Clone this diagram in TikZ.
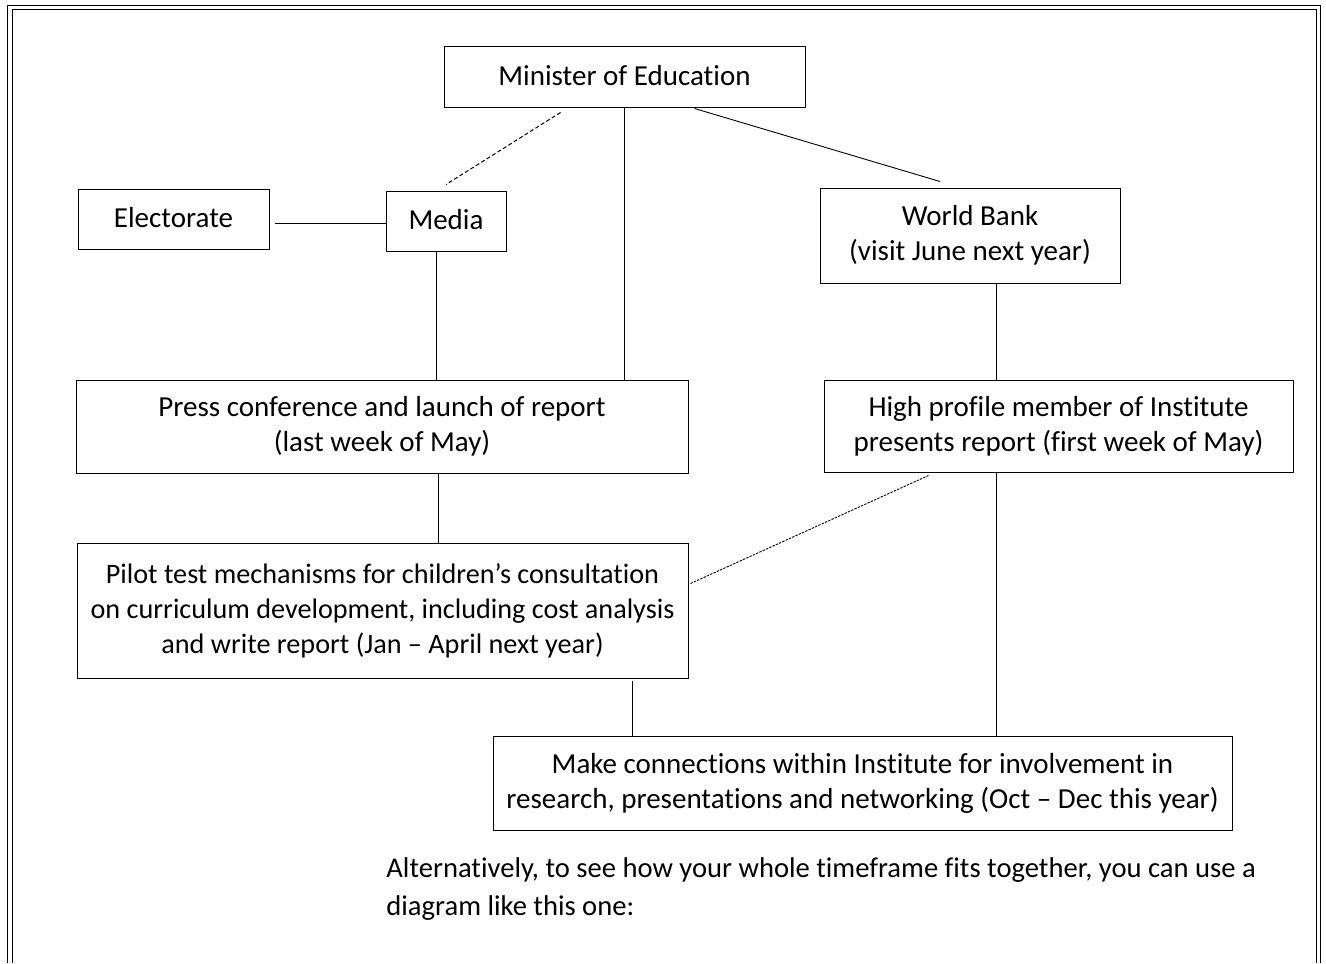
\documentclass[tikz,border=0pt]{standalone}
\usepackage{fontspec}
\setmainfont[Ligatures={NoCommon}]{Carlito}
\begin{document}
\begin{tikzpicture}[x=0.5pt,y=-0.5pt,
  box/.style={draw,line width=0.5pt,inner sep=0pt,align=center,font=\fontsize{14.5}{17.5}\selectfont},
  conn/.style={line width=0.45pt},
  dconn/.style={line width=0.5pt,dash pattern=on 2pt off 1.2pt},
  fconn/.style={line width=0.45pt,dash pattern=on 1.2pt off 0.6pt}]
\useasboundingbox (0,0) rectangle (1326,963);
% frame
\draw[line width=0.45pt] (7,963) -- (7,5) -- (1320,5) -- (1320,963);
\draw[line width=0.45pt] (12,963) -- (12,9) -- (1316,9) -- (1316,963);
% nodes
\node[box,minimum width=180.5pt,minimum height=30.5pt] (min) at (624.5,77.5) {\raisebox{2pt}{Minister of Education}};
\node[box,minimum width=95.5pt,minimum height=30pt] (ele) at (173.5,219) {\raisebox{2pt}{Electorate}};
\node[box,minimum width=60pt,minimum height=30pt] (med) at (446,221) {\raisebox{2pt}{Media}};
\node[box,minimum width=150pt,minimum height=47.5pt] (wb) at (970,235.5) {World Bank\\(visit June next year)};
\node[box,minimum width=306pt,minimum height=46.5pt] (pr) at (382,426.5) {Press conference and launch of report\\(last week of May)};
\node[box,minimum width=234.5pt,minimum height=46pt] (hp) at (1058.5,426) {High profile member of Institute\\presents report (first week of May)};
\node[box,minimum width=305.5pt,minimum height=67.5pt,font=\fontsize{14.1}{17.5}\selectfont] (pi) at (382.5,610.5) {Pilot test mechanisms for children's consultation\\on curriculum development, including cost analysis\\and write report (Jan -- April next year)};
\node[box,minimum width=369.5pt,minimum height=47pt] (mk) at (862.5,783) {Make connections within Institute for involvement in\\research, presentations and networking (Oct -- Dec this year)};
\node[anchor=north west,inner sep=0pt,align=left,font=\fontsize{14.3}{19}\selectfont] (txt) at (386,857) {Alternatively, to see how your whole timeframe fits together, you can use a\\diagram like this one:};
% connectors
\coordinate (m1) at ([xshift=-32pt,yshift=-2pt]min.south);
\coordinate (m2) at ([yshift=3pt]med.north);
\draw[dconn] (m1) -- (m2);
\draw[conn] (min.south) -- (min.south |- pr.north);
\coordinate (m3) at ([xshift=35pt]min.south);
\coordinate (w1) at ([xshift=-15pt,yshift=3pt]wb.north);
\draw[conn] (m3) -- (w1);
\coordinate (e1) at ([xshift=2.5pt,yshift=-2pt]ele.east);
\draw[conn] (e1) -- (e1 -| med.west);
\coordinate (md) at ([xshift=-5pt]med.south);
\draw[conn] (md) -- (md |- pr.north);
\coordinate (wd) at ([xshift=13pt]wb.south);
\draw[conn] (wd) -- (wd |- hp.north);
\coordinate (pd) at ([xshift=28pt]pr.south);
\draw[conn] (pd) -- (pd |- pi.north);
\coordinate (pe) at ([xshift=1pt,yshift=13.5pt]pi.east);
\coordinate (hs) at ([xshift=-65pt,yshift=-1.5pt]hp.south);
\draw[fconn] (pe) -- (hs);
\coordinate (pb) at ([xshift=125pt,yshift=-1pt]pi.south);
\draw[conn] (pb) -- (pb |- mk.north);
\coordinate (hb) at ([xshift=-31pt]hp.south);
\draw[conn] (hb) -- (hb |- mk.north);
\end{tikzpicture}
\end{document}
